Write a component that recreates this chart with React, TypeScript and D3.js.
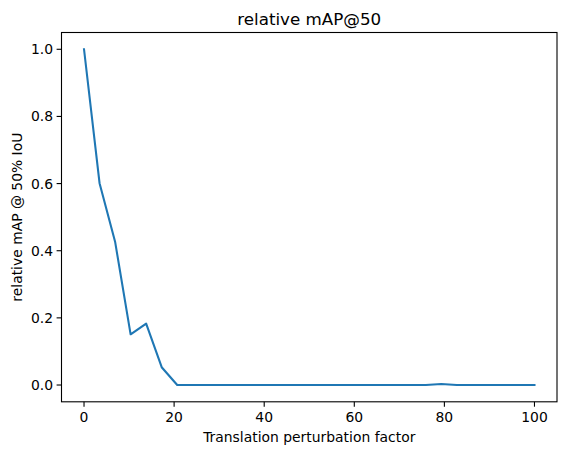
import React from "react";
import * as d3 from "d3";

const N = 30;
const xValues: number[] = Array.from({ length: N }, (_, i) => (i * 100) / (N - 1));
const yValues: number[] = [
  1.0, 0.601, 0.427, 0.151, 0.183, 0.053, 0.0, 0.0, 0.0, 0.0,
  0.0, 0.0, 0.0, 0.0, 0.0, 0.0, 0.0, 0.0, 0.0, 0.0,
  0.0, 0.0, 0.0, 0.003, 0.0, 0.0, 0.0, 0.0, 0.0, 0.0,
];
const xTicks = [0, 20, 40, 60, 80, 100];
const yTicks = [0.0, 0.2, 0.4, 0.6, 0.8, 1.0];

const W = 567;
const H = 455;
const left = 61.5;
const right = 557;
const top = 32.5;
const bottom = 401.8;
const font = "DejaVu Sans";

export default function App() {
  const x = d3.scaleLinear().domain([-5, 105]).range([left, right]);
  const y = d3.scaleLinear().domain([-0.05, 1.05]).range([bottom, top]);
  const line = d3
    .line<number>()
    .x((_, i) => x(xValues[i]))
    .y((d) => y(d));
  return (
    <svg width={W} height={H} style={{ position: "absolute", left: 0, top: 0 }} fontFamily={font}>
      <rect x={0} y={0} width={W} height={H} fill="#fff" />
      <path d={line(yValues) ?? ""} fill="none" stroke="#1f77b4" strokeWidth={2.08} strokeLinejoin="round" strokeLinecap="square" />
      <rect x={left} y={top} width={right - left} height={bottom - top} fill="none" stroke="#000" strokeWidth={1.1} />
      {xTicks.map((t) => (
        <g key={"x" + t}>
          <line x1={x(t)} x2={x(t)} y1={bottom} y2={bottom + 4.9} stroke="#000" strokeWidth={1.1} />
          <text x={x(t)} y={bottom + 20} fontSize={13.9} textAnchor="middle" fill="#000">
            {t}
          </text>
        </g>
      ))}
      {yTicks.map((t) => (
        <g key={"y" + t}>
          <line x1={left - 4.9} x2={left} y1={y(t)} y2={y(t)} stroke="#000" strokeWidth={1.1} />
          <text x={left - 8.5} y={y(t) + 5} fontSize={13.9} textAnchor="end" fill="#000">
            {t.toFixed(1)}
          </text>
        </g>
      ))}
      <text x={(left + right) / 2} y={442} fontSize={13.9} textAnchor="middle" fill="#000">
        Translation perturbation factor
      </text>
      <text
        transform={`translate(22, ${(top + bottom) / 2}) rotate(-90)`}
        fontSize={13.9}
        textAnchor="middle"
        fill="#000"
      >
        relative mAP @ 50% IoU
      </text>
      <text x={(left + right) / 2} y={top - 8} fontSize={16.7} textAnchor="middle" fill="#000">
        relative mAP@50
      </text>
    </svg>
  );
}
